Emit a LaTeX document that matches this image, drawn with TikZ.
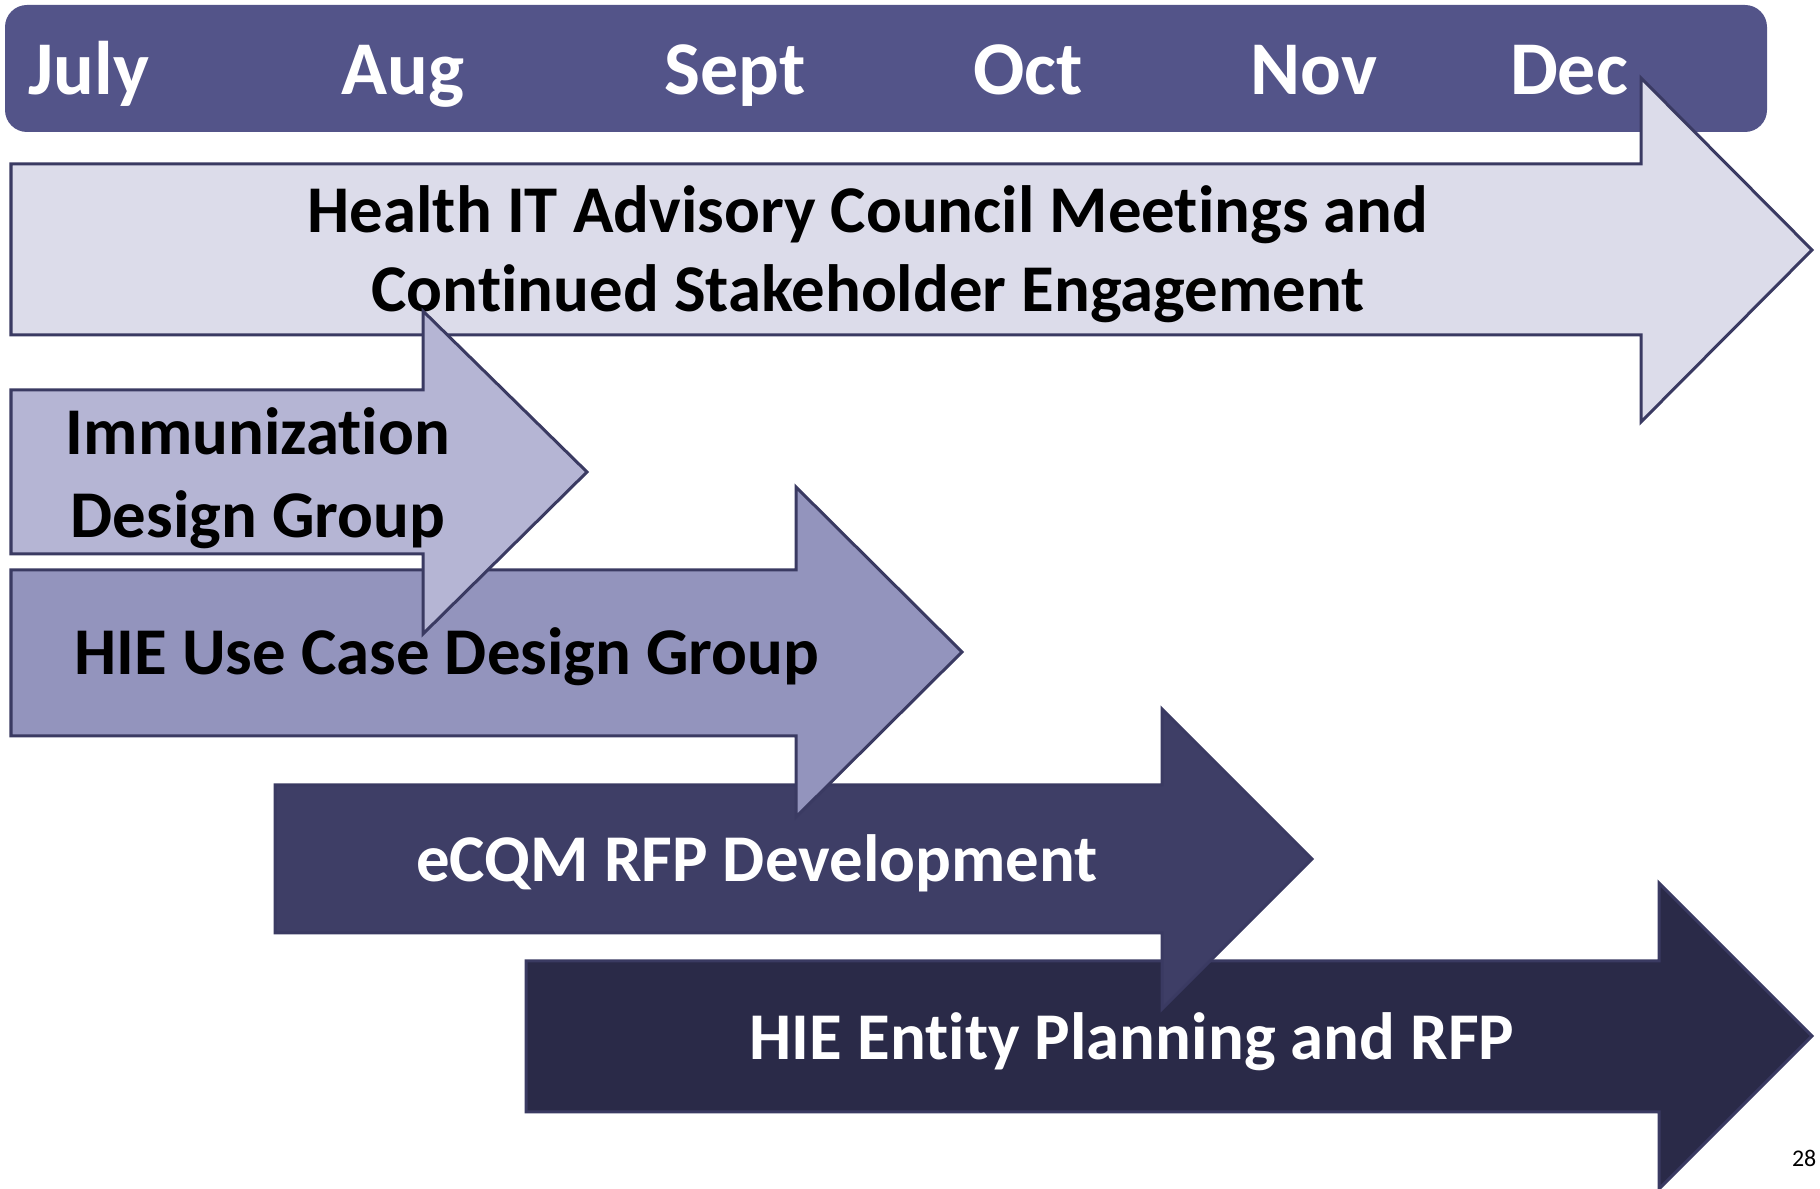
\documentclass[tikz,border=0pt]{standalone}
\usepackage{fontspec}
\setmainfont{Carlito}[Ligatures=NoCommon]
\definecolor{hdrblue}{HTML}{535489}
\definecolor{arrline}{HTML}{3A3A62}
\definecolor{fillA}{HTML}{DCDCEA}
\definecolor{fillB}{HTML}{B5B5D4}
\definecolor{fillC}{HTML}{9394BD}
\definecolor{fillD}{HTML}{3E3E66}
\definecolor{fillE}{HTML}{2A2A48}
\begin{document}
\begin{tikzpicture}[x=0.01cm,y=-0.01cm,
  bar/.style={draw=arrline,line width=0.03cm,line join=miter},
  month/.style={anchor=base,inner sep=0pt,text=white,font=\fontsize{21.6}{26}\selectfont\bfseries},
  lbl/.style={anchor=base,inner sep=0pt,align=center,font=\fontsize{19}{22.5}\selectfont\bfseries}]
  \useasboundingbox (0,0) rectangle (1820,1189);
  \fill[hdrblue,rounded corners=0.22cm] (5,5) rectangle (1767,132); % month bar
  \node[month] (jul) at (89,95) {July};
  \node[month] (aug) at (403,95) {Aug};
  \node[month] (sep) at (735,95) {Sept};
  \node[month] (oct) at (1028,95) {Oct};
  \node[month] (nov) at (1314,95) {Nov};
  \node[month] (dec) at (1569,95) {Dec};

  \filldraw[bar,fill=fillA] (11,164)--(1641,164)--(1641,78)--(1812,250)--(1641,422)--(1641,335)--(11,335)--cycle; % council
  \node[lbl] (council) at (868,312) {Health IT Advisory Council Meetings and\\Continued Stakeholder Engagement};

  \filldraw[bar,fill=fillE] (526,961)--(1659,961)--(1659,883)--(1812,1036)--(1659,1189)--(1659,1112)--(526,1112)--cycle; % entity
  \node[lbl,text=white] (entity) at (1132,1060) {HIE Entity Planning and RFP};

  \filldraw[bar,fill=fillD] (275,785)--(1162,785)--(1162,709)--(1312,859)--(1162,1009)--(1162,933)--(275,933)--cycle; % ecqm
  \node[lbl,text=white] (ecqm) at (757,882) {eCQM RFP Development};

  \filldraw[bar,fill=fillC] (11,570)--(796,570)--(796,487)--(962,652)--(796,817)--(796,736)--(11,736)--cycle; % use case
  \node[lbl] (usecase) at (447,675) {HIE Use Case Design Group};

  \filldraw[bar,fill=fillB] (11,390)--(423,390)--(423,311)--(587,472)--(423,634)--(423,554)--(11,554)--cycle; % immunization
  \node[lbl,font=\fontsize{19}{23.6}\selectfont\bfseries] (immun) at (258,538) {Immunization\\Design Group};

  \node[anchor=base east,inner sep=0pt,font=\fontsize{6.8}{8}\selectfont] (pagenum) at (1817,1167) {28};
\end{tikzpicture}
\end{document}
